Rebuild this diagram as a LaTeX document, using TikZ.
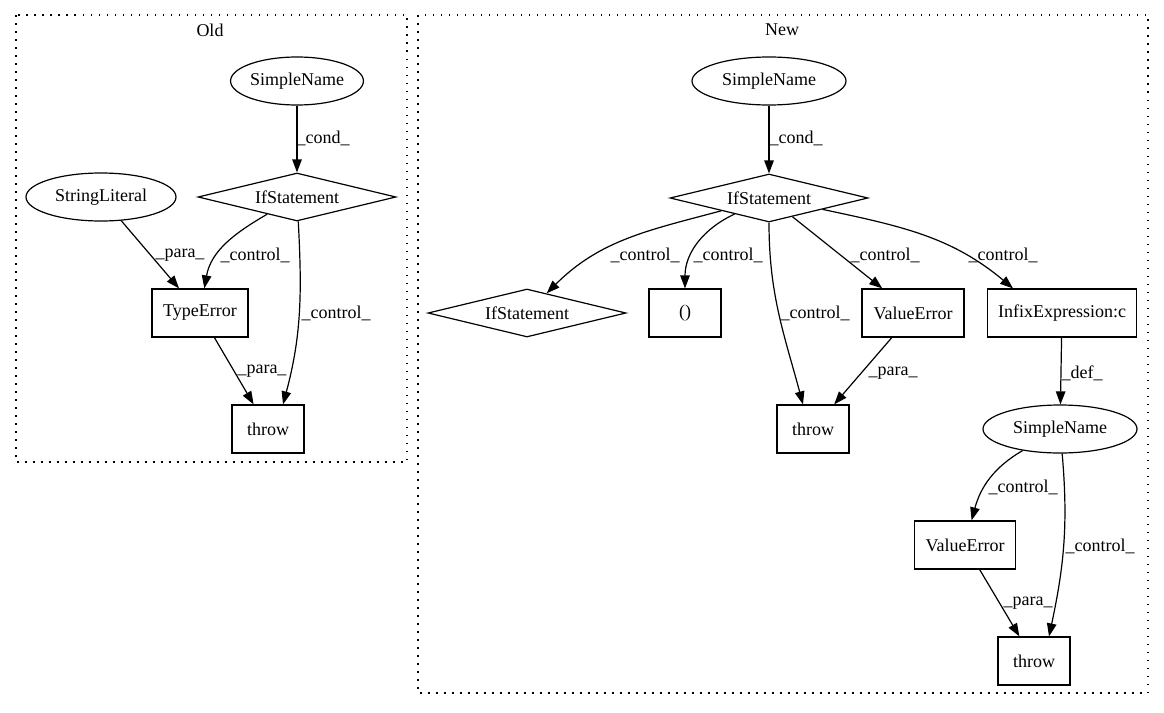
\documentclass[tikz,border=0pt]{standalone}
\usepackage{fontspec}
\setmainfont{Liberation Serif}
\usetikzlibrary{shapes.geometric,arrows.meta}
\begin{document}
\begin{tikzpicture}[x=1pt,y=1pt,
  every node/.style={font=\fontsize{18}{21}\selectfont},
  ell/.style={draw,ellipse,line width=1.2pt,inner sep=0pt,minimum height=48pt},
  box/.style={draw,rectangle,line width=1.2pt,inner sep=0pt,minimum height=48pt},
  dia/.style={draw,diamond,line width=1.2pt,inner sep=0pt,aspect=4.125,minimum width=198pt,minimum height=48pt},
  edge/.style={line width=1.2pt,-{Triangle[length=13pt,width=9.5pt]}},
  lbl/.style={inner sep=0pt},
  cluster/.style={draw,line width=1.3pt,dash pattern=on 1.5pt off 6.5pt}
]
\useasboundingbox (0,0) rectangle (1164,-712);

% clusters
\draw[cluster] (16,-15) rectangle (407,-462);
\draw[cluster] (418,-15) rectangle (1148,-693);
\node[lbl] (told) at (210,-30) {Old};
\node[lbl] (tnew) at (782,-30) {New};

% Old nodes
\node[ell,minimum width=126pt] (osn) at (297,-81) {SimpleName};
\node[dia] (oif) at (297,-197) {IfStatement};
\node[ell,minimum width=150pt] (osl) at (101,-197) {StringLiteral};
\node[box,minimum width=96pt] (ote) at (200,-313) {TypeError};
\node[box,minimum width=72pt] (oth) at (268,-429) {throw};

% New nodes
\node[ell,minimum width=154pt] (nsn) at (769,-81) {SimpleName};
\node[dia] (nif) at (769,-198) {IfStatement};
\node[dia] (nif2) at (527,-313) {IfStatement};
\node[box,minimum width=72pt] (npar) at (685,-313) {()};
\node[box,minimum width=102pt] (nve) at (913,-313) {ValueError};
\node[box,minimum width=149pt] (ninf) at (1062,-313) {InfixExpression:c};
\node[box,minimum width=72pt] (nth) at (813,-429) {throw};
\node[ell,minimum width=154pt] (nsn2) at (1060,-429) {SimpleName};
\node[box,minimum width=101pt] (nve2) at (965,-545) {ValueError};
\node[box,minimum width=72pt] (nth2) at (1034,-661) {throw};

% Old edges
\draw[edge] (osn) -- (oif);
\draw[edge] (osl) -- (ote);
\draw[edge] (oif) to[out=-150,in=80] (ote);
\draw[edge] (oif) to[out=-87,in=75] ([xshift=15pt]oth.north);
\draw[edge] (ote) -- (oth);

% Old labels
\node[lbl] (l1) at (323,-138) {\_cond\_};
\node[lbl] (l2) at (180,-255) {\_para\_};
\node[lbl] (l3) at (255,-255) {\_control\_};
\node[lbl] (l4) at (336,-313) {\_control\_};
\node[lbl] (l5) at (262,-371) {\_para\_};

% New edges
\draw[edge] (nsn) -- (nif);
\draw[edge] (nif) to[out=-165,in=45] (nif2);
\draw[edge] (nif) to[out=-155,in=90] (npar);
\draw[edge] (nif) to[out=-90,in=105] ([xshift=-10pt]nth.north);
\draw[edge] (nif) -- (nve);
\draw[edge] (nif) to[out=-12,in=140] ([xshift=-49pt]ninf.north);
\draw[edge] (nve) -- (nth);
\draw[edge] (ninf) -- (nsn2);
\draw[edge] (nsn2) to[out=-150,in=75] (nve2);
\draw[edge] (nsn2) to[out=-85,in=78] ([xshift=15pt]nth2.north);
\draw[edge] (nve2) -- (nth2);

% New labels
\node[lbl] (m1) at (796,-138) {\_cond\_};
\node[lbl] (m2) at (645,-255) {\_control\_};
\node[lbl] (m3) at (728,-255) {\_control\_};
\node[lbl] (m4) at (815,-313) {\_control\_};
\node[lbl] (m5) at (885,-255) {\_control\_};
\node[lbl] (m6) at (1003,-255) {\_control\_};
\node[lbl] (m7) at (893,-373) {\_para\_};
\node[lbl] (m8) at (1082,-373) {\_def\_};
\node[lbl] (m9) at (1023,-487) {\_control\_};
\node[lbl] (m10) at (1100,-546) {\_control\_};
\node[lbl] (m11) at (1028,-603) {\_para\_};
\end{tikzpicture}
\end{document}
